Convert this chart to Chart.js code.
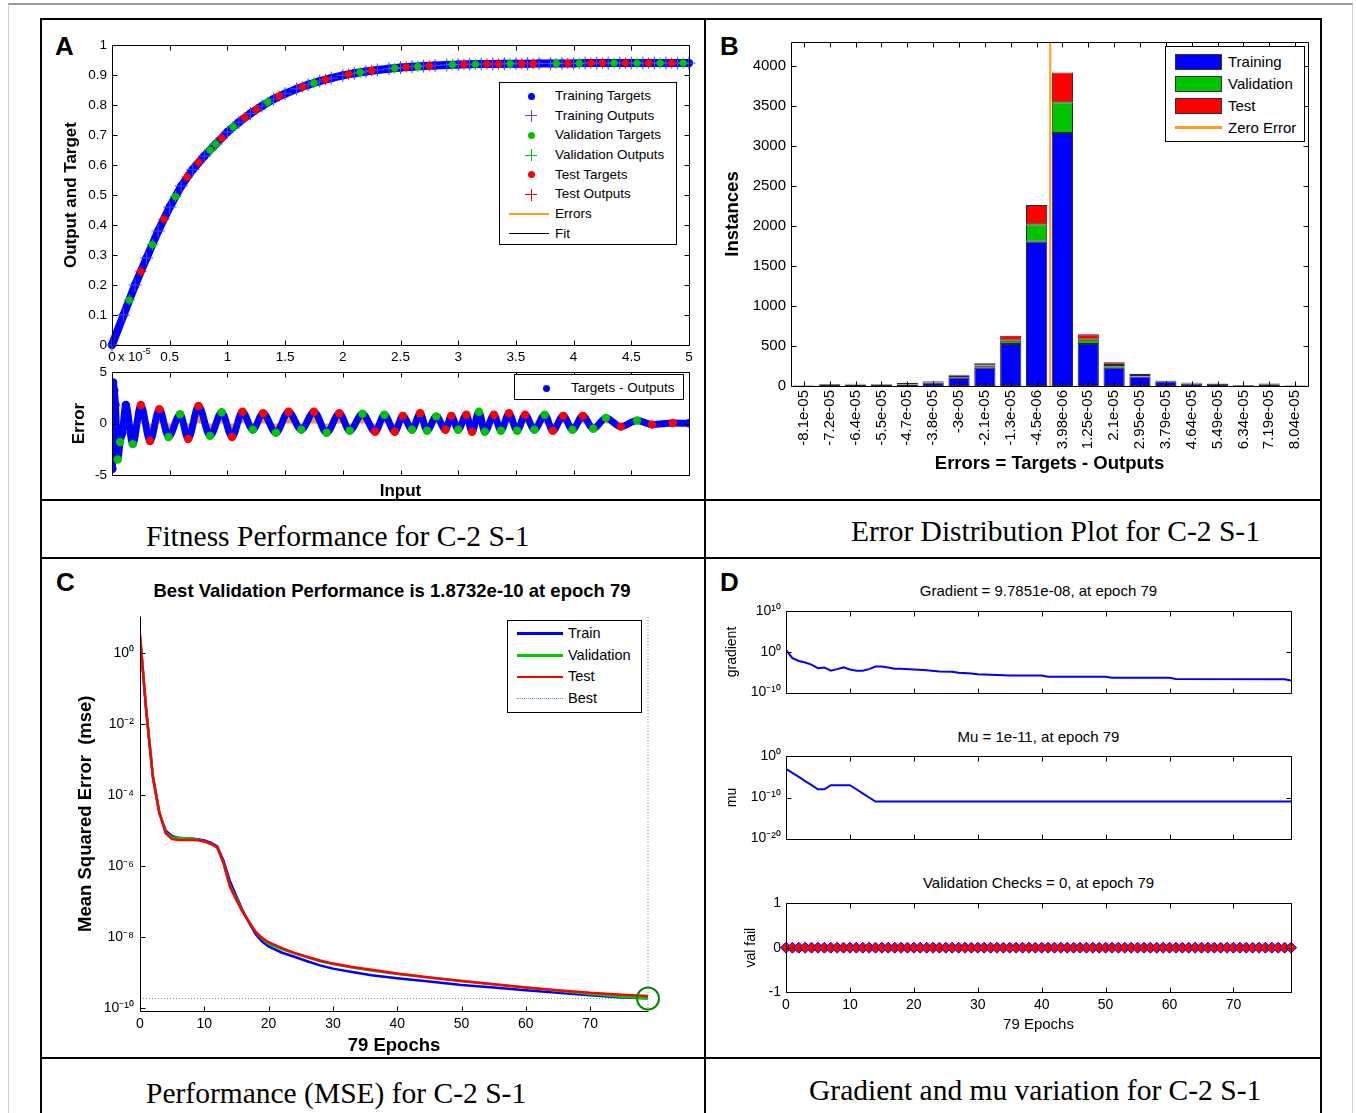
<!DOCTYPE html>
<html>
<head>
<meta charset="utf-8">
<title>Training results for C-2 S-1</title>
<script src="https://cdn.jsdelivr.net/npm/chart.js@4.4.1/dist/chart.umd.min.js"></script>
<style>
  body { margin: 0; background: #fff; }
  #page { position: relative; width: 1356px; height: 1113px; overflow: hidden; font-family: "Liberation Sans", Arial, sans-serif; color: #000; }
  #page canvas { position: absolute; }
  .frame { position: absolute; left: 8px; top: 3px; width: 1343px; height: 1120px; border-top: 2px solid #9a9a9a; border-left: 1px solid #d0d0d0; border-right: 1px solid #d0d0d0; }
  .hl { position: absolute; height: 2px; background: #000; }
  .vl { position: absolute; width: 2px; background: #000; }
  .letter { position: absolute; font-weight: bold; font-size: 26px; line-height: 25px; }
  .caption { position: absolute; font-family: "Liberation Serif", "Times New Roman", serif; font-size: 29.5px; line-height: 34px; white-space: nowrap; }
  .ptitle { position: absolute; text-align: center; white-space: nowrap; }
  .legend { position: absolute; border: 1px solid #000; background: #fff; box-sizing: border-box; }
  .legend div { position: absolute; white-space: nowrap; }
</style>
</head>
<body>
<div id="page">
  <div class="frame"></div>
  <div class="hl" style="left:40px; top:18px; width:1282px;"></div>
  <div class="hl" style="left:40px; top:499px; width:1282px;"></div>
  <div class="hl" style="left:40px; top:557px; width:1282px;"></div>
  <div class="hl" style="left:40px; top:1057px; width:1282px;"></div>
  <div class="vl" style="left:40px; top:18px; height:1100px;"></div>
  <div class="vl" style="left:704px; top:18px; height:1100px;"></div>
  <div class="vl" style="left:1320px; top:18px; height:1100px;"></div>

  <div class="letter" style="left:55px; top:34px;">A</div>
  <div class="letter" style="left:720px; top:34px;">B</div>
  <div class="letter" style="left:56px; top:570px;">C</div>
  <div class="letter" style="left:720px; top:570px;">D</div>

  <div class="caption" style="left:146px; top:519px;">Fitness Performance for C-2 S-1</div>
  <div class="caption" style="left:851px; top:514px;">Error Distribution Plot for C-2 S-1</div>
  <div class="caption" style="left:146px; top:1076px;">Performance (MSE) for C-2 S-1</div>
  <div class="caption" style="left:809px; top:1073px;">Gradient and mu variation for C-2 S-1</div>

  <div class="ptitle" style="left:92px; top:580px; width:600px; font-size:18.5px; line-height:22px; font-weight:bold;">Best Validation Performance is 1.8732e-10 at epoch 79</div>
  <div class="ptitle" style="left:786px; top:582px; width:505px; font-size:15px; line-height:18px;">Gradient = 9.7851e-08, at epoch 79</div>
  <div class="ptitle" style="left:786px; top:728px; width:505px; font-size:15px; line-height:18px;">Mu = 1e-11, at epoch 79</div>
  <div class="ptitle" style="left:786px; top:874px; width:505px; font-size:15px; line-height:18px;">Validation Checks = 0, at epoch 79</div>

  <div class="ptitle" style="left:118px; top:349px; font-size:13px; line-height:16px;">x 10<span style="font-size:9px; position:relative; top:-7px;">-5</span></div>
</div>

<script>
// ---- A: fit (inputs are x 1e-5)
const fitInput  = [0, 0.1, 0.2, 0.3, 0.4, 0.5, 0.6, 0.7, 0.8, 0.9, 1.0, 1.1, 1.2, 1.3, 1.4, 1.5, 1.6, 1.7, 1.8, 1.9,
                   2.0, 2.1, 2.2, 2.3, 2.4, 2.5, 2.6, 2.7, 2.8, 2.9, 3.0, 3.1, 3.2, 3.3, 3.4, 3.5, 3.6, 3.7, 3.8, 3.9,
                   4.0, 4.1, 4.2, 4.3, 4.4, 4.5, 4.6, 4.7, 4.8, 4.9, 5.0];
const fitTarget = [0, 0.10, 0.20, 0.29, 0.38, 0.46, 0.53, 0.585, 0.63, 0.67, 0.71, 0.743, 0.772, 0.797, 0.82, 0.838, 0.854, 0.868, 0.88, 0.89,
                   0.899, 0.906, 0.912, 0.917, 0.921, 0.925, 0.928, 0.93, 0.932, 0.934, 0.935, 0.936, 0.937, 0.937, 0.938, 0.938, 0.938, 0.939, 0.939, 0.939,
                   0.939, 0.94, 0.94, 0.94, 0.94, 0.94, 0.94, 0.94, 0.94, 0.94, 0.94];
const valInput   = [0.15, 0.35, 0.55, 0.85, 0.9, 1.05, 1.35, 1.75, 2.15, 2.45, 2.65, 2.95, 3.15, 3.45, 3.85, 4.05, 4.35, 4.55, 4.75, 4.95];
const valTarget  = [0.15, 0.335, 0.495, 0.65, 0.67, 0.727, 0.81, 0.874, 0.909, 0.923, 0.929, 0.935, 0.936, 0.938, 0.939, 0.939, 0.94, 0.94, 0.94, 0.94];
const testInput  = [0.25, 0.45, 0.65, 0.75, 0.95, 1.15, 1.25, 1.45, 1.65, 1.85, 2.05, 2.25, 2.55, 2.75, 3.05, 3.25, 3.35, 3.55, 3.65, 3.95, 4.15, 4.25, 4.45, 4.65, 4.85];
const testTarget = [0.245, 0.42, 0.56, 0.61, 0.69, 0.758, 0.785, 0.83, 0.861, 0.885, 0.903, 0.915, 0.927, 0.931, 0.936, 0.937, 0.937, 0.938, 0.938, 0.939, 0.94, 0.94, 0.94, 0.94, 0.94];
const fitXTicks = [0, 0.5, 1, 1.5, 2, 2.5, 3, 3.5, 4, 4.5, 5];
const fitYTicks = [0, 0.1, 0.2, 0.3, 0.4, 0.5, 0.6, 0.7, 0.8, 0.9, 1];

// ---- A: error (x 1e-5)
const errInput = [0, 0.004, 0.01, 0.02, 0.03, 0.05, 0.07, 0.09, 0.12, 0.18,
                  0.25, 0.33, 0.41, 0.49, 0.59, 0.66, 0.75, 0.85, 0.95, 1.04,
                  1.13, 1.22, 1.31, 1.42, 1.53, 1.64, 1.75, 1.86, 1.97, 2.06,
                  2.17, 2.28, 2.36, 2.45, 2.52, 2.60, 2.67, 2.73, 2.81, 2.89,
                  2.94, 3.00, 3.07, 3.12, 3.18, 3.23, 3.31, 3.37, 3.44, 3.51,
                  3.58, 3.66, 3.75, 3.82, 3.91, 3.99, 4.08, 4.17, 4.28, 4.41,
                  4.55, 4.68, 4.86, 5.0];
const errValue = [0, -4.4, 4.0, 3.2, 1.8, -3.5, -1.8, -0.9, 1.8, -2.0,
                  1.8, -1.7, 1.4, -1.3, 0.9, -1.5, 1.7, -1.2, 1.1, -1.3,
                  1.15, -0.6, 1.0, -0.9, 1.15, -0.6, 1.15, -0.9, 1.0, -0.7,
                  0.95, -0.8, 0.85, -0.8, 0.75, -0.6, 1.0, -0.7, 0.7, -0.6,
                  0.75, -0.6, 0.85, -0.8, 1.15, -0.8, 0.85, -0.7, 1.0, -0.7,
                  0.85, -0.6, 0.85, -0.7, 0.75, -0.6, 0.75, -0.5, 0.55, -0.3,
                  0.3, -0.1, 0.05, 0.03];
const errSet = ['b','b','b','b','b','g','g','b','b','g',
                'r','r','r','g','g','r','r','g','g','r',
                'r','g','r','g','r','g','r','g','r','g',
                'g','r','g','r','r','g','r','g','g','r',
                'r','g','r','r','g','g','r','g','r','g',
                'r','g','g','r','r','g','r','g','g','r',
                'g','r','r','b'];

// ---- B: error histogram
const binLabels = ['-8.1e-05','-7.2e-05','-6.4e-05','-5.5e-05','-4.7e-05','-3.8e-05','-3e-05','-2.1e-05','-1.3e-05','-4.5e-06',
                   '3.98e-06','1.25e-05','2.1e-05','2.95e-05','3.79e-05','4.64e-05','5.49e-05','6.34e-05','7.19e-05','8.04e-05'];
const binCenters = [-8.1e-5, -7.2e-5, -6.4e-5, -5.5e-5, -4.7e-5, -3.8e-5, -3e-5, -2.1e-5, -1.3e-5, -4.5e-6,
                    3.98e-6, 1.25e-5, 2.1e-5, 2.95e-5, 3.79e-5, 4.64e-5, 5.49e-5, 6.34e-5, 7.19e-5, 8.04e-5];
const trainCounts = [5, 12, 15, 14, 20, 45, 103, 227, 524, 1804, 3163, 524, 227, 120, 60, 30, 28, 8, 15, 6];
const valCounts   = [3, 5, 8, 6, 5, 12, 25, 29, 42, 219, 384, 54, 37, 16, 5, 12, 4, 2, 10, 2];
const testCounts  = [2, 8, 4, 5, 15, 5, 12, 29, 62, 240, 371, 70, 33, 17, 5, 3, 3, 2, 5, 2];
const histTicks = [0, 500, 1000, 1500, 2000, 2500, 3000, 3500, 4000];
const zeroError = 0;
const histMax = 4300;

// ---- C: performance
const perfEpochs = [0, 1, 2, 3, 4, 5, 6, 7, 8, 9, 10, 11, 12, 13, 14, 15, 16, 17, 18, 19, 20, 22, 24, 26, 28, 30, 33, 36, 40, 45, 50, 55, 60, 65, 70, 75, 79];
const perfTrain = [2.8, 2.1e-2, 3.4e-4, 3.2e-5, 1.0e-5, 7.0e-6, 6.3e-6, 6.0e-6, 6.0e-6, 5.8e-6,
                   5.3e-6, 4.6e-6, 3.6e-6, 1.4e-6, 3.7e-7, 1.4e-7, 5.5e-8, 2.5e-8, 1.2e-8, 7.5e-9,
                   5.5e-9, 3.7e-9, 2.8e-9, 2.1e-9, 1.6e-9, 1.3e-9, 1.05e-9, 8.5e-10, 7.0e-10, 5.6e-10,
                   4.5e-10, 3.8e-10, 3.2e-10, 2.7e-10, 2.3e-10, 2.0e-10, 1.9e-10];
const perfVal   = [3.0, 2.3e-2, 3.6e-4, 3.5e-5, 9.0e-6, 6.5e-6, 6.2e-6, 6.1e-6, 6.0e-6, 5.6e-6,
                   5.0e-6, 4.3e-6, 3.4e-6, 1.2e-6, 2.8e-7, 1.2e-7, 5.2e-8, 2.6e-8, 1.4e-8, 9.0e-9,
                   6.5e-9, 4.6e-9, 3.5e-9, 2.7e-9, 2.1e-9, 1.75e-9, 1.4e-9, 1.15e-9, 9.2e-10, 7.3e-10,
                   5.8e-10, 4.7e-10, 3.8e-10, 3.1e-10, 2.5e-10, 2.1e-10, 1.8732e-10];
const perfTest  = [3.4, 2.1e-2, 3.2e-4, 3.2e-5, 8.5e-6, 5.8e-6, 5.5e-6, 5.5e-6, 5.5e-6, 5.4e-6,
                   5.0e-6, 4.3e-6, 3.4e-6, 1.2e-6, 2.6e-7, 1.1e-7, 5.0e-8, 2.6e-8, 1.4e-8, 9.5e-9,
                   7.2e-9, 5.0e-9, 3.6e-9, 2.8e-9, 2.2e-9, 1.8e-9, 1.45e-9, 1.2e-9, 9.5e-10, 7.3e-10,
                   5.8e-10, 4.7e-10, 3.8e-10, 3.2e-10, 2.7e-10, 2.4e-10, 2.2e-10];
const bestEpoch = 79;
const bestPerf = 1.8732e-10;
const perfTicks = [1e-10, 1e-8, 1e-6, 1e-4, 1e-2, 1];
const perfMin = 8.3e-11, perfMax = 11;

// ---- D: training state
const gradEpochs = [0, 1, 2, 3, 4, 5, 6, 7, 8, 9, 10, 11, 12, 13, 14, 15, 16, 17, 18,
                    20, 22, 24, 26, 27, 29, 30, 35, 40, 41, 50, 51, 60, 61, 78, 79];
const gradValues = [3.2, 3e-2, 6e-3, 2.5e-3, 8e-4, 1e-4, 1.6e-4, 2.5e-5, 6e-5, 1.6e-4, 5e-5, 2.5e-5, 2.5e-5, 6e-5, 2.5e-4, 2.5e-4, 1.6e-4, 8e-5, 8e-5,
                    5e-5, 3e-5, 1.6e-5, 1.3e-5, 8e-6, 5e-6, 3.2e-6, 1.6e-6, 1.6e-6, 8e-7, 8e-7, 4.5e-7, 4.5e-7, 2.2e-7, 2e-7, 9.7851e-8];
const gradTicks = [1e-10, 1, 1e10];
const muEpochs = [0, 1, 2, 3, 4, 5, 6, 7, 8, 9, 10, 11, 12, 13, 14, 79];
const muValues = [1e-3, 1e-4, 1e-5, 1e-6, 1e-7, 1e-8, 1e-8, 1e-7, 1e-7, 1e-7, 1e-7, 1e-8, 1e-9, 1e-10, 1e-11, 1e-11];
const muTicks = [1e-20, 1e-10, 1];
const valFail = [0, 0, 0, 0, 0, 0, 0, 0, 0, 0, 0, 0, 0, 0, 0, 0, 0, 0, 0, 0,
                 0, 0, 0, 0, 0, 0, 0, 0, 0, 0, 0, 0, 0, 0, 0, 0, 0, 0, 0, 0,
                 0, 0, 0, 0, 0, 0, 0, 0, 0, 0, 0, 0, 0, 0, 0, 0, 0, 0, 0, 0,
                 0, 0, 0, 0, 0, 0, 0, 0, 0, 0, 0, 0, 0, 0, 0, 0, 0, 0, 0, 0];

const BLUE = '#0000ff', GREEN = '#00c400', RED = '#ff0000', ORANGE = '#ff9a1a';
const setColor = { b: BLUE, g: GREEN, r: RED };

Chart.defaults.font.family = '"Liberation Sans", Arial, sans-serif';
Chart.defaults.color = '#000';

const page = document.getElementById('page');
const pts = (xs, ys) => xs.map((x, i) => ({ x, y: ys[i] }));
const fixTicks = list => s => { s.ticks = list.map(v => ({ value: v })); };

// 10^n labels with superscript exponent
const SUP = { '-': '\u207b', '0': '\u2070', '1': '\u00b9', '2': '\u00b2', '3': '\u00b3', '4': '\u2074',
              '5': '\u2075', '6': '\u2076', '7': '\u2077', '8': '\u2078', '9': '\u2079' };
const pow10Label = v => '10' + String(Math.round(Math.log10(v))).split('').map(c => SUP[c]).join('');

// matlab-like box with inward ticks
const matlabAxes = {
  id: 'matlabAxes',
  afterDraw(chart, args, opts) {
    const { ctx, chartArea: a } = chart;
    const xs = chart.scales.x, ys = chart.scales.y;
    const len = 5, box = opts.box !== false;
    const L = Math.round(a.left) + 0.5, R = Math.round(a.right) + 0.5;
    const T = Math.round(a.top) + 0.5, B = Math.round(a.bottom) + 0.5;
    ctx.save();
    ctx.strokeStyle = '#000';
    ctx.lineWidth = 1;
    ctx.beginPath();
    ctx.moveTo(L, T); ctx.lineTo(L, B); ctx.lineTo(R, B);
    if (box) { ctx.lineTo(R, T); ctx.lineTo(L, T); }
    xs.ticks.forEach((t, i) => {
      const px = Math.round(xs.getPixelForTick(i)) + 0.5;
      ctx.moveTo(px, B); ctx.lineTo(px, B - len);
      if (box) { ctx.moveTo(px, T); ctx.lineTo(px, T + len); }
    });
    ys.ticks.forEach((t, i) => {
      const py = Math.round(ys.getPixelForTick(i)) + 0.5;
      ctx.moveTo(L, py); ctx.lineTo(L + len, py);
      if (box) { ctx.moveTo(R, py); ctx.lineTo(R - len, py); }
    });
    ctx.stroke();
    ctx.restore();
  }
};

// canvas placed so the plot area lands on box exactly
function makeChart(box, pad, config, axesOpts) {
  const c = document.createElement('canvas');
  const w = box.r - box.l + pad.L + pad.R;
  const h = box.b - box.t + pad.T + pad.B;
  c.width = w; c.height = h;
  c.style.left = (box.l - pad.L) + 'px';
  c.style.top = (box.t - pad.T) + 'px';
  c.style.width = w + 'px';
  c.style.height = h + 'px';
  page.appendChild(c);
  const o = config.options;
  o.responsive = false;
  o.animation = false;
  o.devicePixelRatio = 1;
  o.layout = { autoPadding: false, padding: { left: 0, top: pad.T, right: pad.R, bottom: 0 } };
  o.plugins = Object.assign({ legend: { display: false }, tooltip: { enabled: false }, matlabAxes: axesOpts || {} }, o.plugins);
  o.scales.x.afterFit = s => { s.height = pad.B; };
  o.scales.y.afterFit = s => { s.width = pad.L; };
  config.plugins = [matlabAxes];
  return new Chart(c, config);
}

const noGrid = { grid: { display: false, drawTicks: false }, border: { display: false } };
const axisTitle = (text, size, bold) => ({ display: true, text, padding: 0, color: '#000', font: { size, weight: bold ? 'bold' : 'normal' } });

// ---------- A: output and target
makeChart({ l: 112, t: 42, r: 689, b: 345 }, { L: 51, T: 10, R: 14, B: 22 }, {
  type: 'scatter',
  data: {
    datasets: [
      { label: 'Test Targets', data: pts(testInput, testTarget), pointRadius: 3.6, pointBackgroundColor: RED, pointBorderWidth: 0, clip: false },
      { label: 'Validation Targets', data: pts(valInput, valTarget), pointRadius: 3.6, pointBackgroundColor: GREEN, pointBorderWidth: 0, clip: false },
      { label: 'Test Outputs', data: pts(testInput, testTarget), pointStyle: 'cross', pointRadius: 5.5, pointBorderColor: RED, pointBorderWidth: 1, clip: false },
      { label: 'Validation Outputs', data: pts(valInput, valTarget), pointStyle: 'cross', pointRadius: 5.5, pointBorderColor: GREEN, pointBorderWidth: 1, clip: false },
      { label: 'Training Outputs', data: pts(fitInput, fitTarget), pointStyle: 'cross', pointRadius: 6.5, pointBorderColor: '#4848ff', pointBorderWidth: 1, clip: false },
      { label: 'Training Targets', data: pts(fitInput, fitTarget), showLine: true, borderColor: BLUE, borderWidth: 8,
        pointRadius: 4.2, pointBackgroundColor: BLUE, pointBorderWidth: 0, clip: false },
      { label: 'Fit', data: pts(fitInput, fitTarget), showLine: true, borderColor: '#000', borderWidth: 1, pointRadius: 0 }
    ]
  },
  options: {
    scales: {
      x: Object.assign({ type: 'linear', min: 0, max: 5, afterBuildTicks: fixTicks(fitXTicks),
        ticks: { padding: 4, maxRotation: 0, font: { size: 13.5 }, callback: v => String(v) } }, noGrid),
      y: Object.assign({ min: 0, max: 1, afterBuildTicks: fixTicks(fitYTicks),
        ticks: { padding: 5, font: { size: 13.5 }, callback: v => String(v) },
        title: axisTitle('Output and Target', 17, true) }, noGrid)
    }
  }
});

// ---------- A: error
makeChart({ l: 112, t: 367, r: 689, b: 475 }, { L: 43, T: 8, R: 14, B: 27 }, {
  type: 'line',
  data: {
    datasets: [{
      label: 'Targets - Outputs', data: pts(errInput, errValue),
      borderColor: BLUE, borderWidth: 7, fill: 'origin', backgroundColor: ORANGE,
      cubicInterpolationMode: 'monotone',
      pointRadius: 4.2, pointBackgroundColor: errSet.map(s => setColor[s]), pointBorderWidth: 0
    }]
  },
  options: {
    scales: {
      x: Object.assign({ type: 'linear', min: 0, max: 5, afterBuildTicks: fixTicks(fitXTicks), ticks: { display: false },
        title: axisTitle('Input', 17, true) }, noGrid),
      y: Object.assign({ min: -5, max: 5, ticks: { stepSize: 5, padding: 5, font: { size: 13.5 } },
        title: axisTitle('Error', 17, true) }, noGrid)
    }
  }
});

// ---------- B: error histogram
const binHalf = (binCenters[binCenters.length - 1] - binCenters[0]) / (binCenters.length - 1) / 2;
const barStyle = { borderColor: '#2a2a2a', borderWidth: 1, borderSkipped: false, barPercentage: 0.82, categoryPercentage: 1, grouped: false };
makeChart({ l: 791, t: 38, r: 1308, b: 386 }, { L: 69, T: 10, R: 12, B: 89 }, {
  type: 'bar',
  data: {
    labels: binLabels,
    datasets: [
      { type: 'line', label: 'Zero Error', data: [{ x: zeroError, y: 0 }, { x: zeroError, y: histMax }],
        xAxisID: 'xz', yAxisID: 'yz', borderColor: ORANGE, borderWidth: 2, pointRadius: 0 },
      Object.assign({ label: 'Training', data: trainCounts, backgroundColor: BLUE }, barStyle),
      Object.assign({ label: 'Validation', data: valCounts, backgroundColor: GREEN }, barStyle),
      Object.assign({ label: 'Test', data: testCounts, backgroundColor: RED }, barStyle)
    ]
  },
  options: {
    scales: {
      x: Object.assign({ stacked: true, ticks: { autoSkip: false, minRotation: 90, maxRotation: 90, padding: 4, font: { size: 15 } },
        title: axisTitle('Errors = Targets - Outputs', 18.5, true) }, noGrid),
      y: Object.assign({ stacked: true, min: 0, max: histMax, afterBuildTicks: fixTicks(histTicks),
        ticks: { padding: 5, font: { size: 15 }, callback: v => String(v) },
        title: axisTitle('Instances', 18.5, true) }, noGrid),
      xz: { type: 'linear', display: false, min: binCenters[0] - binHalf, max: binCenters[binCenters.length - 1] + binHalf },
      yz: { display: false, min: 0, max: histMax }
    }
  }
});

// ---------- C: performance
const bestStyle = { borderColor: '#4caf50', borderWidth: 1, borderDash: [1, 2], pointRadius: 0, clip: false };
makeChart({ l: 140, t: 612, r: 648, b: 1011 }, { L: 65, T: 10, R: 22, B: 46 }, {
  type: 'line',
  data: {
    datasets: [
      { label: 'Best point', data: [{ x: bestEpoch, y: bestPerf }], showLine: false, pointRadius: 11,
        pointBorderColor: '#008a00', pointBorderWidth: 2, pointBackgroundColor: 'rgba(0,0,0,0)', clip: false },
      { label: 'Test', data: pts(perfEpochs, perfTest), borderColor: RED, borderWidth: 2.5, pointRadius: 0 },
      { label: 'Validation', data: pts(perfEpochs, perfVal), borderColor: '#00cc00', borderWidth: 2.5, pointRadius: 0 },
      { label: 'Train', data: pts(perfEpochs, perfTrain), borderColor: BLUE, borderWidth: 2.5, pointRadius: 0 },
      Object.assign({ label: 'Best', data: [{ x: perfEpochs[0], y: bestPerf }, { x: perfEpochs[perfEpochs.length - 1], y: bestPerf }] }, bestStyle),
      Object.assign({ label: 'Best epoch', data: [{ x: bestEpoch, y: perfMin }, { x: bestEpoch, y: perfMax }] }, bestStyle)
    ]
  },
  options: {
    scales: {
      x: Object.assign({ type: 'linear', min: 0, max: 79, ticks: { stepSize: 10, includeBounds: false, padding: 5, font: { size: 14 } },
        title: axisTitle('79 Epochs', 18.5, true) }, noGrid),
      y: Object.assign({ type: 'logarithmic', min: perfMin, max: perfMax, afterBuildTicks: fixTicks(perfTicks),
        ticks: { padding: 6, font: { size: 14 }, callback: v => pow10Label(v) },
        title: axisTitle('Mean Squared Error  (mse)', 18.5, true) }, noGrid)
    }
  }
}, { box: false });

// ---------- D: gradient, mu, validation checks
const epochAxis = (showTicks, title) => Object.assign({ type: 'linear', min: 0, max: 79,
  ticks: { display: showTicks, stepSize: 10, includeBounds: false, padding: 5, font: { size: 14 } },
  title: title ? axisTitle(title, 15, false) : { display: false } }, noGrid);
const logAxis = (min, max, tickList, title) => Object.assign({ type: 'logarithmic', min, max,
  afterBuildTicks: fixTicks(tickList),
  ticks: { padding: 5, font: { size: 14 }, callback: v => pow10Label(v) },
  title: axisTitle(title, 14, false) }, noGrid);

makeChart({ l: 786, t: 608, r: 1291, b: 700 }, { L: 62, T: 10, R: 10, B: 6 }, {
  type: 'line',
  data: { datasets: [{ label: 'gradient', data: pts(gradEpochs, gradValues), borderColor: BLUE, borderWidth: 2, pointRadius: 0 }] },
  options: { scales: { x: epochAxis(false), y: logAxis(1e-10, 1e10, gradTicks, 'gradient') } }
});

makeChart({ l: 786, t: 753, r: 1291, b: 846 }, { L: 62, T: 10, R: 10, B: 6 }, {
  type: 'line',
  data: { datasets: [{ label: 'mu', data: pts(muEpochs, muValues), borderColor: BLUE, borderWidth: 2, pointRadius: 0 }] },
  options: { scales: { x: epochAxis(false), y: logAxis(1e-20, 1, muTicks, 'mu') } }
});

makeChart({ l: 786, t: 900, r: 1291, b: 992 }, { L: 43, T: 10, R: 12, B: 42 }, {
  type: 'line',
  data: { datasets: [{ label: 'val fail', data: valFail.map((v, i) => ({ x: i, y: v })), borderColor: BLUE, borderWidth: 1.5,
    pointStyle: 'rectRot', pointRadius: 5.5, pointBackgroundColor: RED, pointBorderColor: BLUE, pointBorderWidth: 1, clip: false }] },
  options: {
    scales: {
      x: epochAxis(true, '79 Epochs'),
      y: Object.assign({ min: -1, max: 1, ticks: { stepSize: 1, padding: 5, font: { size: 14 } },
        title: axisTitle('val fail', 14, false) }, noGrid)
    }
  }
});

// ---------- legends (html boxes like matlab)
function legendBox(box, geo, rows) {
  const d = document.createElement('div');
  d.className = 'legend';
  Object.assign(d.style, { left: box.l + 'px', top: box.t + 'px', width: box.w + 'px', height: box.h + 'px', fontSize: geo.font + 'px' });
  rows.forEach(([label, kind, color], i) => {
    const y = geo.y0 + i * geo.step;
    const m = document.createElement('div');
    if (kind === 'dot') {
      Object.assign(m.style, { left: (geo.mx - 3.5) + 'px', top: (y - 3.5) + 'px', width: '7px', height: '7px', borderRadius: '50%', background: color });
    } else if (kind === 'plus') {
      Object.assign(m.style, { left: (geo.mx - 6) + 'px', top: (y - 6) + 'px', width: '12px', height: '12px',
        background: `linear-gradient(${color},${color}) center/12px 1px no-repeat, linear-gradient(${color},${color}) center/1px 12px no-repeat` });
    } else if (kind === 'rect') {
      Object.assign(m.style, { left: geo.x0 + 'px', top: (y - 8) + 'px', width: (geo.x1 - geo.x0) + 'px', height: '16px',
        background: color, border: '1px solid #333', boxSizing: 'border-box' });
    } else if (kind === 'dotline') {
      Object.assign(m.style, { left: geo.x0 + 'px', top: (y - 0.5) + 'px', width: (geo.x1 - geo.x0) + 'px', height: '0', borderTop: '1px dotted ' + color });
    } else {
      const lw = kind === 'thin' ? 1 : 2.5;
      Object.assign(m.style, { left: geo.x0 + 'px', top: (y - lw / 2) + 'px', width: (geo.x1 - geo.x0) + 'px', height: lw + 'px', background: color });
    }
    d.appendChild(m);
    const t = document.createElement('div');
    t.textContent = label;
    Object.assign(t.style, { left: geo.tx + 'px', top: (y - geo.font * 0.6) + 'px', lineHeight: (geo.font * 1.2) + 'px' });
    d.appendChild(t);
  });
  page.appendChild(d);
}

legendBox({ l: 499, t: 82, w: 178, h: 163 }, { font: 13.5, y0: 13, step: 19.7, mx: 31, x0: 9, x1: 49, tx: 55 }, [
  ['Training Targets', 'dot', BLUE], ['Training Outputs', 'plus', '#4848ff'],
  ['Validation Targets', 'dot', GREEN], ['Validation Outputs', 'plus', GREEN],
  ['Test Targets', 'dot', RED], ['Test Outputs', 'plus', RED],
  ['Errors', 'line', ORANGE], ['Fit', 'thin', '#000']
]);
legendBox({ l: 514, t: 374, w: 170, h: 26 }, { font: 13.5, y0: 13, step: 0, mx: 31, tx: 56 }, [
  ['Targets - Outputs', 'dot', BLUE]
]);
legendBox({ l: 1165, t: 46, w: 140, h: 96 }, { font: 15, y0: 14.5, step: 22, x0: 9, x1: 56, tx: 62 }, [
  ['Training', 'rect', BLUE], ['Validation', 'rect', GREEN], ['Test', 'rect', RED], ['Zero Error', 'line', ORANGE]
]);
legendBox({ l: 507, t: 620, w: 135, h: 93 }, { font: 14.5, y0: 12.5, step: 21.8, x0: 9, x1: 55, tx: 60 }, [
  ['Train', 'line', BLUE], ['Validation', 'line', '#00cc00'], ['Test', 'line', RED], ['Best', 'dotline', '#4caf50']
]);
</script>
</body>
</html>
